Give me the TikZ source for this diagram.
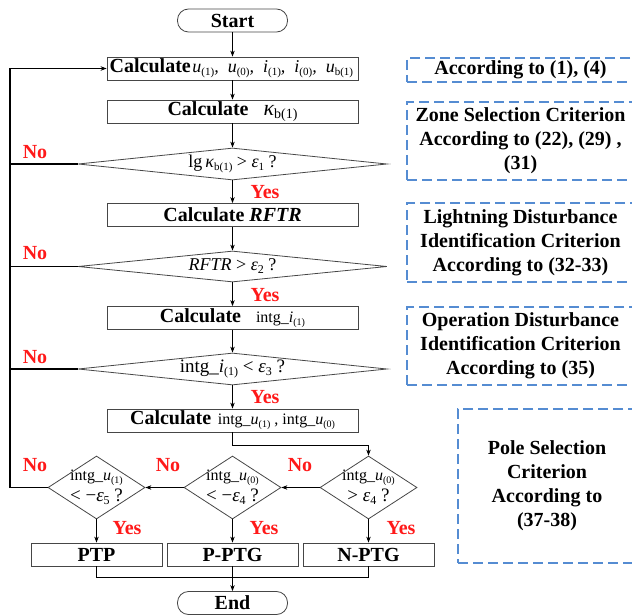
\documentclass[tikz,border=0pt]{standalone}
\usepackage{fontspec}
\setmainfont{Liberation Serif}
\usetikzlibrary{shapes.geometric,arrows.meta}
\definecolor{dashblue}{RGB}{85,140,210}
\definecolor{boxgray}{RGB}{70,70,70}
\definecolor{lblred}{RGB}{255,25,25}
\newcommand{\sbx}[2][10]{\raisebox{-3pt}{\fontsize{#1}{#1}\selectfont\upshape\mdseries #2}}
\newcommand{\fs}[1]{\fontsize{#1}{#1}\selectfont}
\begin{document}
\begin{tikzpicture}[x=1pt,y=-1pt,
  proc/.style={draw=boxgray, line width=0.8pt, minimum width=251pt, minimum height=23pt, inner sep=0pt},
  outb/.style={draw=boxgray, line width=0.8pt, minimum width=131pt, minimum height=23pt, inner sep=0pt, font=\fs{20}\bfseries},
  term/.style={draw=boxgray, line width=0.8pt, rounded corners=11pt, minimum width=110pt, minimum height=23pt, inner sep=0pt, font=\fs{20}\bfseries},
  dia/.style={diamond, draw=boxgray, line width=0.8pt, inner sep=0pt},
  crit/.style={draw=dashblue, line width=1.1pt, dash pattern=on 10pt off 5pt, align=center, font=\fontsize{20}{24}\selectfont\bfseries, inner sep=0pt},
  lbl/.style={text=lblred, font=\fs{20}\bfseries, inner sep=0pt},
  txt/.style={inner sep=0pt, align=center},
  arr/.style={-{Stealth[length=6pt,width=4.5pt]}, line width=0.8pt},
  ln/.style={line width=0.8pt},
  loop/.style={line width=1.1pt}]
\useasboundingbox (0,0) rectangle (632,615);
\clip (0,0) rectangle (632,615);

% main column
\node[term] (start) at (232.5,20.5) {Start};
\node[proc] (b1) at (232.5,68.5) {};
\node[txt, anchor=west] at (109.5,68.5) {{\fs{20}\bfseries Calculate}\,{\fs{18}\itshape u\sbx[11]{(1)},\enspace u\sbx[11]{(0)},\enspace i\sbx[11]{(1)},\enspace i\sbx[11]{(0)},\enspace u\sbx[11]{b(1)}}};
\node[proc] (b2) at (232.5,111.5) {{\fs{20}\bfseries Calculate}\quad\enspace{\fs{22}\itshape κ}\sbx[14]{b(1)}};
\node[dia, minimum width=309pt, minimum height=32pt] (d1) at (232.5,164) {};
\node[txt] at (d1) {\fs{18}lg\,\textit{κ}\sbx[11]{b(1)} > \textit{ε}\sbx[11]{1} ?};
\node[proc] (b3) at (232.5,215) {\fs{20}\bfseries Calculate \textit{RFTR}};
\node[dia, minimum width=309pt, minimum height=31pt] (d2) at (232.5,266.5) {};
\node[txt] at (d2) {\fs{18}\textit{RFTR} > \textit{ε}\sbx[12]{2} ?};
\node[proc] (b4) at (232.5,318) {{\fs{20}\bfseries Calculate}\quad\enspace{\fs{16}intg\_\textit{i}\sbx[10]{(1)}}};
\node[dia, minimum width=309pt, minimum height=32pt] (d3) at (232.5,369) {};
\node[txt] at (d3) {\fs{19}intg\_\textit{i}\sbx[12]{(1)} < \textit{ε}\sbx[12]{3} ?};
\node[proc] (b5) at (232.5,420.5) {{\fs{20}\bfseries Calculate}\enspace\,{\fs{16}intg\_\textit{u}\sbx[10]{(1)} , intg\_\textit{u}\sbx[10]{(0)}}};

% pole selection diamonds
\node[dia, minimum width=97pt, minimum height=63pt] (d4) at (368.5,487.5) {};
\node[txt] at (d4) {\fs{16}intg\_\textit{u}\sbx[10]{(0)}\\[2pt]\fs{19}> \textit{ε}\sbx[12]{4} ?};
\node[dia, minimum width=97pt, minimum height=63pt] (d5) at (232.5,487.5) {};
\node[txt] at (d5) {\fs{16}intg\_\textit{u}\sbx[10]{(0)}\\[2pt]\fs{19}< −\textit{ε}\sbx[12]{4} ?};
\node[dia, minimum width=97pt, minimum height=63pt] (d6) at (96.5,487.5) {};
\node[txt] at (d6) {\fs{16}intg\_\textit{u}\sbx[10]{(1)}\\[2pt]\fs{19}< −\textit{ε}\sbx[12]{5} ?};

\node[outb] (o1) at (96.5,554.5) {PTP};
\node[outb] (o2) at (232.5,554.5) {P-PTG};
\node[outb] (o3) at (368.5,554.5) {N-PTG};
\node[term] (end) at (232.5,603) {End};

% criteria boxes
\node[crit, minimum width=227pt, minimum height=24pt] (ca) at (520.5,70) {According to (1), (4)};
\node[crit, minimum width=227pt, minimum height=78pt] (cb) at (520.5,141) {Zone Selection Criterion\\According to (22), (29) ,\\(31)};
\node[crit, minimum width=227pt, minimum height=79pt] (cc) at (520.5,242.5) {Lightning Disturbance\\Identification Criterion\\According to (32-33)};
\node[crit, minimum width=227pt, minimum height=78pt] (cd) at (520.5,346) {Operation Disturbance\\Identification Criterion\\According to (35)};
\node[crit, minimum width=178pt, minimum height=154pt] (ce) at (547,486) {Pole Selection\\Criterion\\According to\\(37-38)};

% connectors
\draw[arr] (start) -- (b1);
\draw[arr] (b1) -- (b2);
\draw[arr] (b2) -- (d1.north);
\draw[arr] (d1.south) -- (b3);
\draw[arr] (b3) -- (d2.north);
\draw[arr] (d2.south) -- (b4);
\draw[arr] (b4) -- (d3.north);
\draw[arr] (d3.south) -- (b5);
\coordinate (bend) at (232.5,445);
\draw[arr] (b5.south) -- (bend) -| (d4.north);
\draw[arr] (d4.west) -- (d5.east);
\draw[arr] (d5.west) -- (d6.east);
\draw[arr] (d4.south) -- (o3);
\draw[arr] (d5.south) -- (o2);
\draw[arr] (d6.south) -- (o1);
\coordinate (lx) at (10,0);
\draw[loop] (d1.west) -- (d1.west -| lx);
\draw[loop] (d2.west) -- (d2.west -| lx);
\draw[loop] (d3.west) -- (d3.west -| lx);
\draw[loop, -{Stealth[length=6pt,width=4.5pt]}] (d6.west) -- (d6.west -| lx) |- (b1.west);
\coordinate (bot) at (0,577);
\draw[ln] (o1.south) -- (o1.south |- bot) -| (o3.south);
\draw[arr] (o2.south) -- (end.north);

% labels
\node[lbl] at (35,152) {No};
\node[lbl] at (35,253) {No};
\node[lbl] at (35,357) {No};
\node[lbl] at (35,465) {No};
\node[lbl] at (168,465) {No};
\node[lbl] at (300,465) {No};
\node[lbl] at (265,192) {Yes};
\node[lbl] at (265,295) {Yes};
\node[lbl] at (265,397) {Yes};
\node[lbl] at (127,528) {Yes};
\node[lbl] at (264,528) {Yes};
\node[lbl] at (401,528) {Yes};
\end{tikzpicture}
\end{document}
